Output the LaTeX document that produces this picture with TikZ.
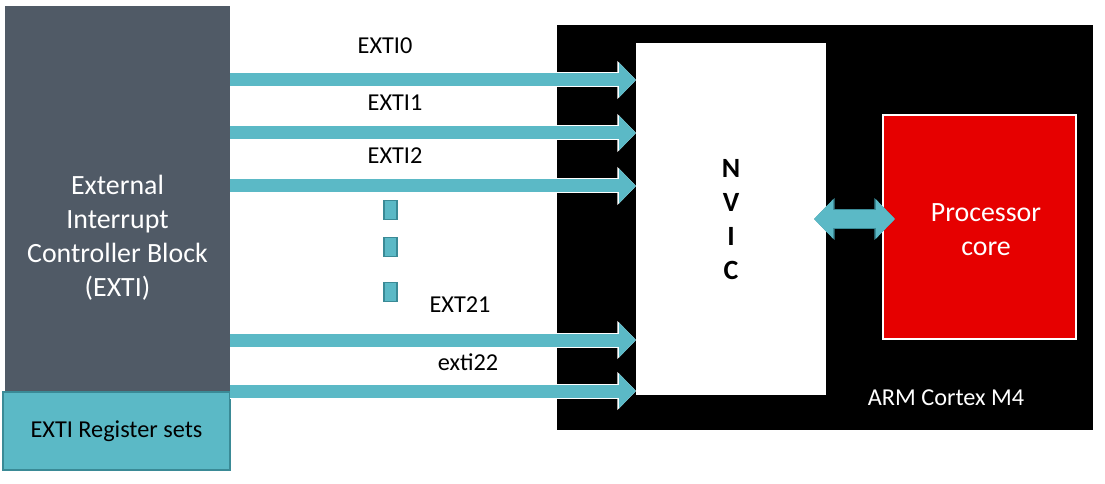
\documentclass[tikz,border=0pt]{standalone}
\usepackage{fontspec}
\setmainfont{Carlito}
\usetikzlibrary{arrows.meta}

\definecolor{extigray}{RGB}{80,90,102}
\definecolor{busteal}{RGB}{91,185,198}
\definecolor{tealedge}{RGB}{58,138,150}
\definecolor{corered}{RGB}{230,0,0}

\newcommand{\bigtxt}{\fontsize{20.9}{25.5}\selectfont}
\newcommand{\smalltxt}{\fontsize{18.2}{22}\selectfont}

\tikzset{
  block/.style={inner sep=0pt, outer sep=0pt},
  txt/.style={inner sep=0pt, align=center},
  bus/.style={draw=busteal, line width=9.75pt, -{Triangle[length=12.75pt,width=25.5pt]},
    preaction={draw=white, line width=11.25pt, -{Triangle[length=14pt,width=27.75pt]}}},
  link/.style={draw=busteal, line width=13.5pt, {Triangle[length=14.25pt,width=28.5pt]}-{Triangle[length=14.25pt,width=28.5pt]},
    preaction={draw=tealedge, line width=15pt, {Triangle[length=15.5pt,width=30.5pt]}-{Triangle[length=15.5pt,width=30.5pt]}}},
  dotbox/.style={fill=busteal, draw=tealedge, line width=0.8pt, minimum width=9.75pt, minimum height=14.25pt, inner sep=0pt},
}

\begin{document}
\begin{tikzpicture}[x=0.75pt,y=0.75pt,yscale=-1,xscale=1]
\useasboundingbox (0,0) rectangle (1105,484);

%Shape: EXTI block
\node[block, fill=extigray, minimum width=168.75pt, minimum height=289.5pt] (exti) at (117.5,199) {};
% Text Node
\node[txt, text=white, font=\bigtxt] (extitext) at (117.5,238) {External\\Interrupt\\Controller Block\\(EXTI)};
%Shape: register sets
\node[block, fill=busteal, draw=tealedge, line width=1.2pt, minimum width=170.25pt, minimum height=58.5pt, font=\smalltxt] (regs) at (116.5,431) {EXTI Register sets};

%Shape: ARM Cortex M4 box
\node[block, fill=black, minimum width=402pt, minimum height=303.75pt] (cortex) at (825,227.5) {};
%Shape: NVIC
\node[block, fill=white, minimum width=142.5pt, minimum height=264pt] (nvic) at (731,219) {};
% Text Node
\node[txt, font=\bigtxt\bfseries] (nvictext) at (731,220) {N\\V\\I\\C};
%Shape: processor core
\node[block, fill=corered, draw=white, line width=1pt, minimum width=144.75pt, minimum height=168pt] (core) at (979.5,227) {};
% Text Node
\node[txt, text=white, font=\bigtxt] (coretext) at (986,230) {Processor\\core};
% Text Node
\node[txt, text=white, font=\smalltxt] (arm) at (946,398) {ARM Cortex M4};

%Lines of the interrupt buses
\coordinate (l0) at (0,80);
\coordinate (l1) at (0,133);
\coordinate (l2) at (0,186);
\coordinate (l21) at (0,340);
\coordinate (l22) at (0,391);
\draw[bus] (l0 -| exti.east) -- (l0 -| nvic.west);
\draw[bus] (l1 -| exti.east) -- (l1 -| nvic.west);
\draw[bus] (l2 -| exti.east) -- (l2 -| nvic.west);
\draw[bus] (l21 -| exti.east) -- (l21 -| nvic.west);
\draw[bus] (l22 -| exti.east) -- (l22 -| nvic.west);

% Text Node
\node[txt, font=\smalltxt] (lbl0) at (385,46) {EXTI0};
% Text Node
\node[txt, font=\smalltxt] (lbl1) at (395,103) {EXTI1};
% Text Node
\node[txt, font=\smalltxt] (lbl2) at (395,156) {EXTI2};
% Text Node
\node[txt, font=\smalltxt] (lbl21) at (460,305) {EXT21};
% Text Node
\node[txt, font=\smalltxt] (lbl22) at (468,362) {exti22};

%Shape: dots
\node[dotbox] (dot1) at (390.5,210) {};
\node[dotbox] (dot2) at (390.5,247) {};
\node[dotbox] (dot3) at (390.5,292) {};

%Double arrow NVIC <-> core
\coordinate (hub) at (nvic.east -| core.west);
\draw[link] ([xshift=-9pt]nvic.east) -- ([xshift=9pt]hub);

\end{tikzpicture}
\end{document}
